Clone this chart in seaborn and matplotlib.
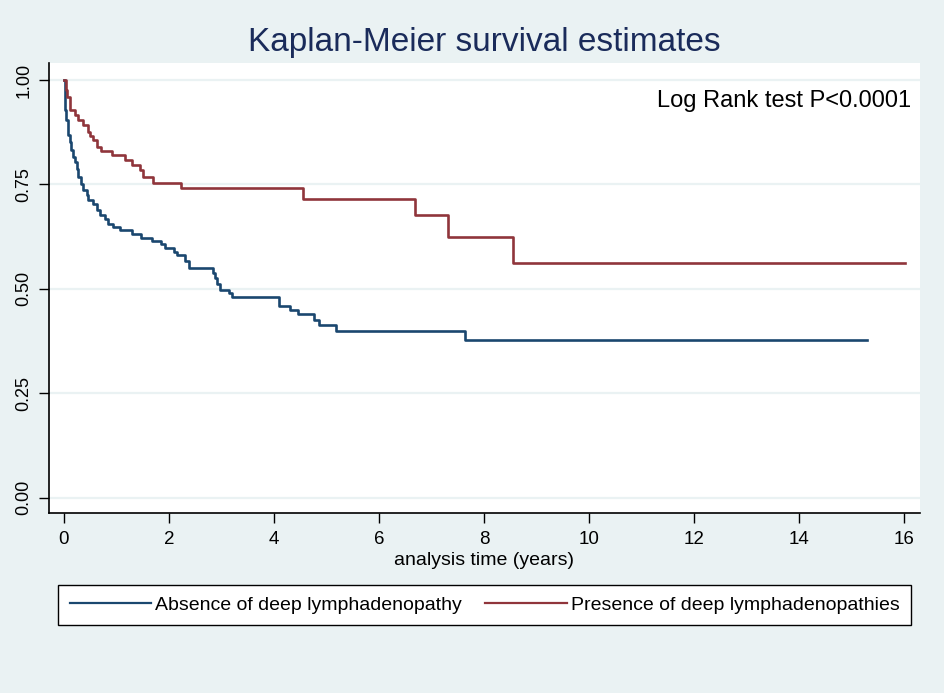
import pandas as pd
import matplotlib
matplotlib.use("Agg")
import matplotlib.pyplot as plt
import seaborn as sns

# Kaplan-Meier step values
t_absence = [0, 0.02, 0.04, 0.07, 0.11, 0.14, 0.17, 0.20, 0.24, 0.27, 0.32, 0.37, 0.43, 0.46,
             0.56, 0.62, 0.68, 0.78, 0.84, 0.94, 1.06, 1.30, 1.46, 1.68, 1.84, 1.93, 2.09,
             2.15, 2.30, 2.39, 2.84, 2.88, 2.92, 2.97, 3.14, 3.20, 4.10, 4.30, 4.46, 4.77,
             4.86, 5.19, 7.64, 15.30]
s_absence = [1.0, 0.928, 0.904, 0.868, 0.852, 0.832, 0.816, 0.804, 0.788, 0.768, 0.752, 0.736,
             0.724, 0.712, 0.704, 0.688, 0.676, 0.668, 0.656, 0.648, 0.640, 0.631, 0.622,
             0.614, 0.606, 0.598, 0.588, 0.580, 0.567, 0.550, 0.537, 0.525, 0.512, 0.498,
             0.489, 0.480, 0.459, 0.448, 0.439, 0.426, 0.412, 0.399, 0.377, 0.377]

t_presence = [0, 0.03, 0.06, 0.11, 0.21, 0.27, 0.37, 0.46, 0.50, 0.55, 0.62, 0.71, 0.92, 1.16,
              1.29, 1.45, 1.51, 1.70, 2.22, 4.56, 6.68, 7.31, 8.55, 16.02]
s_presence = [1.0, 0.976, 0.960, 0.928, 0.916, 0.904, 0.892, 0.876, 0.866, 0.856, 0.840, 0.830,
              0.820, 0.808, 0.796, 0.784, 0.768, 0.754, 0.741, 0.714, 0.676, 0.623, 0.561, 0.561]

labels = ["Absence of deep lymphadenopathy", "Presence of deep lymphadenopathies"]
x_ticks = [0, 2, 4, 6, 8, 10, 12, 14, 16]
y_ticks = [0.00, 0.25, 0.50, 0.75, 1.00]

df = pd.concat([
    pd.DataFrame({"time": t_absence, "surv": s_absence, "group": labels[0]}),
    pd.DataFrame({"time": t_presence, "surv": s_presence, "group": labels[1]}),
], ignore_index=True)

bg = "#EAF2F3"
plt.rcParams["font.family"] = ["Liberation Sans", "DejaVu Sans"]

fig = plt.figure(figsize=(9.45, 6.93), dpi=100, facecolor=bg)
ax = fig.add_axes([49/945, 1-513/693, (920-49)/945, (513-63)/693])
ax.set_facecolor("white")

sns.lineplot(data=df, x="time", y="surv", hue="group", hue_order=labels,
             palette=["#1A476F", "#90353B"], drawstyle="steps-post",
             estimator=None, sort=False, lw=1.9, legend=False, ax=ax)

ax.set_axisbelow(True)
ax.grid(axis="y", color=bg, lw=1.6)
ax.grid(axis="x", visible=False)

ax.set_xlim(-15/52.5, 16 + 16/52.5)
ax.set_ylim(-15.5/417.5, 1 + 17/417.5)
ax.set_xticks(x_ticks)
ax.set_xticklabels([str(v) for v in x_ticks])
ax.set_yticks(y_ticks)
ax.set_yticklabels([f"{v:.2f}" for v in y_ticks], rotation=90, va="center")
ax.tick_params(axis="x", length=7, width=1, pad=6, labelsize=13.5)
ax.tick_params(axis="y", length=7, width=1, pad=5, labelsize=13)
ax.set_xlabel("analysis time (years)", fontsize=14, labelpad=3)
ax.set_ylabel("")
for side in ["top", "right"]:
    ax.spines[side].set_visible(False)
for side in ["left", "bottom"]:
    ax.spines[side].set_linewidth(1.2)

ax.text(0.9895, 0.915, "Log Rank test P<0.0001", transform=ax.transAxes,
        ha="right", va="center", fontsize=17)

fig.text(484/945, 1-42/693, "Kaplan-Meier survival estimates", ha="center", va="center",
         fontsize=24, color="#1A2B5A")

curves = ax.get_lines()[:2]
leg = fig.legend(handles=curves, labels=labels, ncol=2, mode="expand",
                 loc="center", bbox_to_anchor=(58/945, 1-627/693, 853/945, 44/693),
                 fontsize=14, frameon=True, fancybox=False, edgecolor="black",
                 facecolor="white", framealpha=1,
                 handlelength=4.2, handletextpad=0.2, borderpad=0.6, borderaxespad=0)
leg.get_frame().set_linewidth(1.0)
for h in leg.get_lines():
    h.set_linewidth(1.6)

fig.savefig("out.png", dpi=100, facecolor=bg)
